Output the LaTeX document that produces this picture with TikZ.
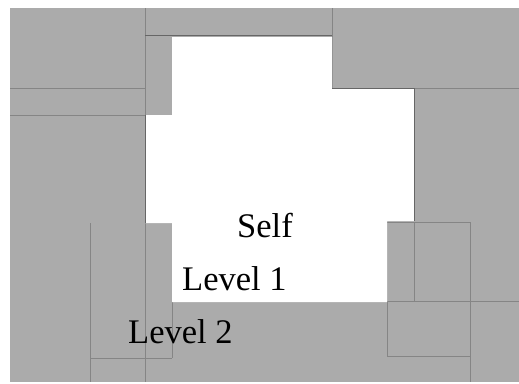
\documentclass[tikz,border=0pt]{standalone}
\usepackage{fontspec}
\setmainfont{Liberation Serif}
\tikzset{
  stipple/.style={fill=black!33, draw=none},
  selfzone/.style={fill=white, draw=none},
  gridline/.style={draw=black!48, line width=0.5pt},
  edgeline/.style={draw=black!60, line width=0.7pt},
  lab/.style={anchor=base west, inner sep=0pt, font=\fontsize{34.5}{40}\selectfont}
}
\begin{document}
\begin{tikzpicture}[x=1pt, y=-1pt]
  \useasboundingbox (0,0) rectangle (519,383);
  \fill[white] (0,0) rectangle (519,383);
  % stippled background
  \path[stipple] (10,8) rectangle (519,382);
  % faint grid lines in the gray area
  \draw[gridline] (145,8) -- (145,382);
  \draw[gridline] (10,88) -- (145,88);
  \draw[gridline] (10,115) -- (172,115);
  \draw[gridline] (332,8) -- (332,88);
  \draw[gridline] (414,88) -- (519,88);
  \draw[gridline] (387,222) -- (470,222);
  \draw[gridline] (414,222) -- (414,301);
  \draw[gridline] (387,301) -- (519,301);
  \draw[gridline] (470,222) -- (470,382);
  \draw[gridline] (387,301) -- (387,356) -- (470,356);
  \draw[gridline] (90,223) -- (90,382);
  \draw[gridline] (90,358) -- (172,358);
  \draw[gridline] (172,302) -- (172,358);
  % white self / level 1 region
  \path[selfzone] (172,37) -- (332,37) -- (332,88) -- (414,88) -- (414,221)
    -- (387,221) -- (387,302) -- (172,302) -- (172,223) -- (145,223)
    -- (145,115) -- (172,115) -- cycle;
  \draw[edgeline] (145,35) -- (332,35);
  \draw[edgeline] (332,88) -- (414,88) -- (414,221);
  \draw[edgeline] (145,115) -- (145,223);
  % labels
  \node[lab] (self) at (237,237) {Self};
  \node[lab] (lvl1) at (182,290) {Level 1};
  \node[lab] (lvl2) at (128,343) {Level 2};
\end{tikzpicture}
\end{document}
